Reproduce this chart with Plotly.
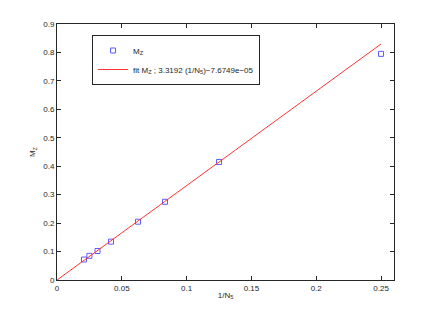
import plotly.graph_objects as go

inv_n = [0.25, 0.125, 1/12, 0.0625, 1/24, 0.03125, 0.025, 1/48]
mz = [0.795, 0.415, 0.275, 0.205, 0.135, 0.102, 0.085, 0.072]
slope = 3.3192
intercept = -7.6749e-05
fit_x = [0.0, 0.25]
fit_y = [slope * x + intercept for x in fit_x]

x_ticks = [0, 0.05, 0.1, 0.15, 0.2, 0.25]
x_ticklabels = ["0", "0.05", "0.1", "0.15", "0.2", "0.25"]
y_ticks = [0, 0.1, 0.2, 0.3, 0.4, 0.5, 0.6, 0.7, 0.8, 0.9]
y_ticklabels = ["0", "0.1", "0.2", "0.3", "0.4", "0.5", "0.6", "0.7", "0.8", "0.9"]

fig = go.Figure()
fig.add_trace(go.Scatter(x=inv_n, y=mz, mode="markers", name="M<sub>Z</sub>",
                         marker=dict(symbol="square-open", size=5, color="#5c5cff",
                                     line=dict(width=1))))
fig.add_trace(go.Scatter(x=fit_x, y=fit_y, mode="lines",
                         name="fit M<sub>Z</sub> ; 3.3192 (1/N<sub>5</sub>)\u22127.6749e\u221205",
                         line=dict(color="#ff3333", width=1)))

axis_common = dict(showgrid=False, zeroline=False, showline=True, linecolor="#262626",
                   linewidth=1, mirror="ticks", ticks="inside", ticklen=4,
                   tickcolor="#262626", tickfont=dict(size=8, color="#262626"),
                   automargin=False)
fig.update_xaxes(range=[0, 0.26], tickvals=x_ticks, ticktext=x_ticklabels,
                 title=dict(text="1/N<sub>5</sub>", font=dict(size=8, color="#262626"), standoff=0),
                 **axis_common)
fig.update_yaxes(range=[0, 0.9], tickvals=y_ticks, ticktext=y_ticklabels,
                 title=dict(text="M<sub>Z</sub>", font=dict(size=8, color="#262626"), standoff=6),
                 **axis_common)
fig.update_layout(width=436, height=315, margin=dict(l=49, r=50, t=16, b=43),
                  paper_bgcolor="white", plot_bgcolor="white",
                  font=dict(family="Liberation Sans, Arial, sans-serif", size=8, color="#262626"),
                  legend=dict(x=0.104, y=0.957, xanchor="left", yanchor="top",
                              bordercolor="#262626", borderwidth=1, bgcolor="white",
                              font=dict(size=8), itemwidth=30, tracegroupgap=0),
                  showlegend=True)
fig.write_html("out.html")
